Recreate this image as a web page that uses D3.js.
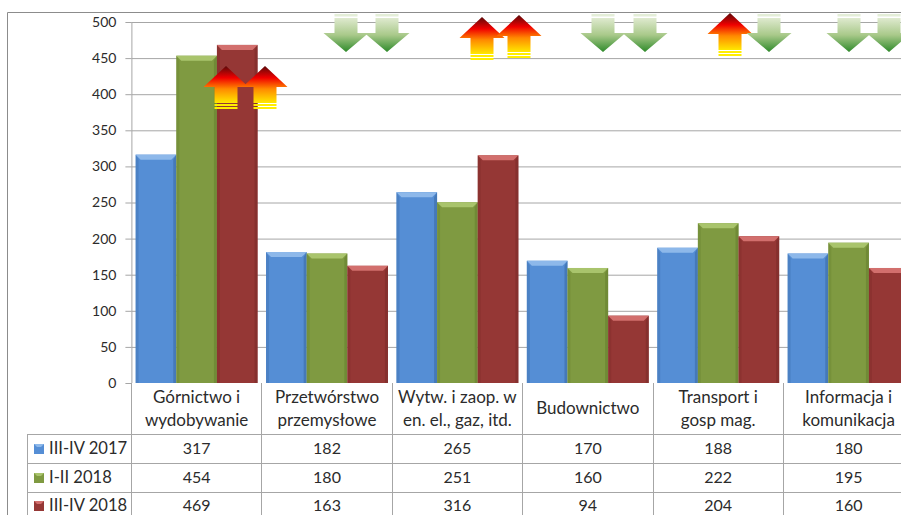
<!DOCTYPE html>
<html><head><meta charset="utf-8">
<script src="https://cdnjs.cloudflare.com/ajax/libs/d3/7.8.5/d3.min.js"></script>
<style>html,body{margin:0;padding:0;background:#fff;overflow:hidden}svg{display:block}text{font-family:Lato,"Open Sans",sans-serif;fill:#2b2b2b}</style>
</head><body><svg id="c" width="901" height="515"></svg>
<script>
const categories=[["Górnictwo i","wydobywanie"],["Przetwórstwo","przemysłowe"],["Wytw. i zaop. w","en. el., gaz, itd."],["Budownictwo"],["Transport i","gosp mag."],["Informacja i","komunikacja"]];
const seriesNames=["III-IV 2017","I-II 2018","III-IV 2018"];
const s2017=[317,182,265,170,188,180];
const s2018a=[454,180,251,160,222,195];
const s2018b=[469,163,316,94,204,160];
const yTicks=[0,50,100,150,200,250,300,350,400,450,500];
const colors=[["#558ed5","#4a7ebb","#3a6ba5","#8db8ea"],["#7f9a41","#7b973f","#66802f","#a9c46c"],["#953735","#953735","#7c2b29","#d26f6d"]];
const arrowDirs=[["up","up"],["down","down"],["up","up"],["down","down"],["up","down"],["down","down"]];
const arrowCx=[[226,265],[346,387],[482,519],[603,645],[730,769],[849,889]];
const arrowTops=[[66,66],[14,14],[17,15],[14,14],[13,14],[14,14]];

const svg=d3.select("#c"),W=901,H=515;
const x0=131.4,catW=130.4,yTop=22,yBot=383;
const y=d3.scaleLinear().domain([0,500]).range([yBot,yTop]);
const xc=d3.scaleBand().domain(d3.range(categories.length)).range([x0,x0+catW*categories.length]);
const xs=d3.scaleBand().domain(d3.range(3)).range([0,catW]).paddingOuter(0.104).paddingInner(0);
const defs=svg.append("defs");
function lg(id,stops){const g=defs.append("linearGradient").attr("id",id).attr("x1",0).attr("y1",0).attr("x2",0).attr("y2",1);
 stops.forEach(s=>g.append("stop").attr("offset",s[0]).attr("stop-color",s[1]));}
lg("gDown",[[0,"#dfeacf"],[.5,"#a9c98a"],[1,"#2e8a2a"]]);
lg("gUp",[[0,"#5a0a0a"],[.32,"#f00000"],[.62,"#ff8a00"],[1,"#ffe800"]]);
// frame
svg.append("path").attr("d",`M7.5,515V12.5H901`).attr("fill","none").attr("stroke","#8c8c8c");
// y axis and grid
svg.append("g").selectAll("line").data(yTicks.filter(d=>d>0)).join("line").attr("x1",x0).attr("x2",W).attr("y1",d=>y(d)+.5).attr("y2",d=>y(d)+.5).attr("stroke","#a6a6a6");
const gY=svg.append("g").attr("transform",`translate(${x0},0)`).call(d3.axisLeft(y).tickValues(yTicks).tickSize(6).tickPadding(9));
gY.select(".domain").attr("stroke","#a6a6a6").attr("d",`M0.5,${yTop}V${yBot}`);gY.selectAll("line").attr("stroke","#a6a6a6");
gY.selectAll("text").style("font-size","14px").attr("dy","0.32em");
// bars
const seriesVals=[s2017,s2018a,s2018b];
seriesVals.forEach((vals,si)=>{
 const g=svg.append("g");
 vals.forEach((v,ci)=>{
  const bx=xc(ci)+xs(si),bw=xs.bandwidth(),by=y(v)+.5,bh=yBot-by,e=5,sd=3;
  const c=colors[si];
  g.append("rect").attr("x",bx).attr("y",by).attr("width",bw).attr("height",bh).attr("fill",c[0]);
  g.append("path").attr("d",`M${bx},${by}h${bw}l${-e},${e}h${-(bw-2*e)}z`).attr("fill",c[3]);
  g.append("path").attr("d",`M${bx},${by}l${sd},${e}V${yBot}h${-sd}z`).attr("fill",c[2]).attr("opacity",.35);
  g.append("path").attr("d",`M${bx+bw},${by}l${-sd},${e}V${yBot}h${sd}z`).attr("fill",c[2]).attr("opacity",.6);
 });
});
// table
const rowYs=[434,463,492],tableLeft=27;
const tg=svg.append("g").attr("stroke","#a6a6a6");
rowYs.forEach(r=>tg.append("line").attr("x1",tableLeft).attr("x2",W).attr("y1",r+.5).attr("y2",r+.5));
tg.append("line").attr("x1",tableLeft+.5).attr("x2",tableLeft+.5).attr("y1",434).attr("y2",H);
d3.range(0,7).forEach(i=>tg.append("line").attr("x1",Math.floor(x0+i*catW)+.5).attr("x2",Math.floor(x0+i*catW)+.5).attr("y1",yBot).attr("y2",H));
// category labels
categories.forEach((c,i)=>{
 const cx=xc(i)+catW/2;
 c.forEach((t,j)=>svg.append("text").attr("x",cx).attr("y",(c.length==1?414:403)+j*23).attr("text-anchor","middle").style("font-size","17px").text(t));
});
// rows
const baselines=[454,483,511];
seriesNames.forEach((n,si)=>{
 const cy=baselines[si]-10;
 const c=colors[si];
 svg.append("rect").attr("x",34).attr("y",cy).attr("width",10).attr("height",10).attr("fill",c[0]);
 svg.append("path").attr("d",`M34,${cy}h10l-3,3h-4z`).attr("fill",c[3]);
 svg.append("text").attr("x",49).attr("y",baselines[si]).style("font-size","16.6px").text(n);
 seriesVals[si].forEach((v,ci)=>svg.append("text").attr("x",xc(ci)+catW/2).attr("y",baselines[si]).attr("text-anchor","middle").style("font-size","16px").text(v));
});
// arrows
function arrow(cx,top,dir){
 const hw=22.5,sw=11.5;
 if(dir=="up"){
  const hh=21,body=16;
  svg.append("path").attr("d",`M${cx},${top}l${hw},${hh}h${-(hw-sw)}v${body}h${-2*sw}v${-body}h${-(hw-sw)}z`).attr("fill","url(#gUp)");
  const yb=top+hh+body;
  svg.append("rect").attr("x",cx-sw).attr("y",yb+1).attr("width",2*sw).attr("height",2).attr("fill","#ffee00");
  svg.append("rect").attr("x",cx-sw).attr("y",yb+4).attr("width",2*sw).attr("height",2).attr("fill","#ffee00");
 } else {
  const hh=19,body=19;
  svg.append("path").attr("d",`M${cx-sw},${top+4}h${2*sw}v${body-4}h${hw-sw}l${-hw},${hh}l${-hw},${-hh}h${hw-sw}z`).attr("fill","url(#gDown)");
  svg.append("rect").attr("x",cx-sw).attr("y",top).attr("width",2*sw).attr("height",2.5).attr("fill","#e4eed8");
 }
}
arrowDirs.forEach((ds,i)=>ds.forEach((d,j)=>arrow(arrowCx[i][j],arrowTops[i][j],d)));
</script></body></html>
